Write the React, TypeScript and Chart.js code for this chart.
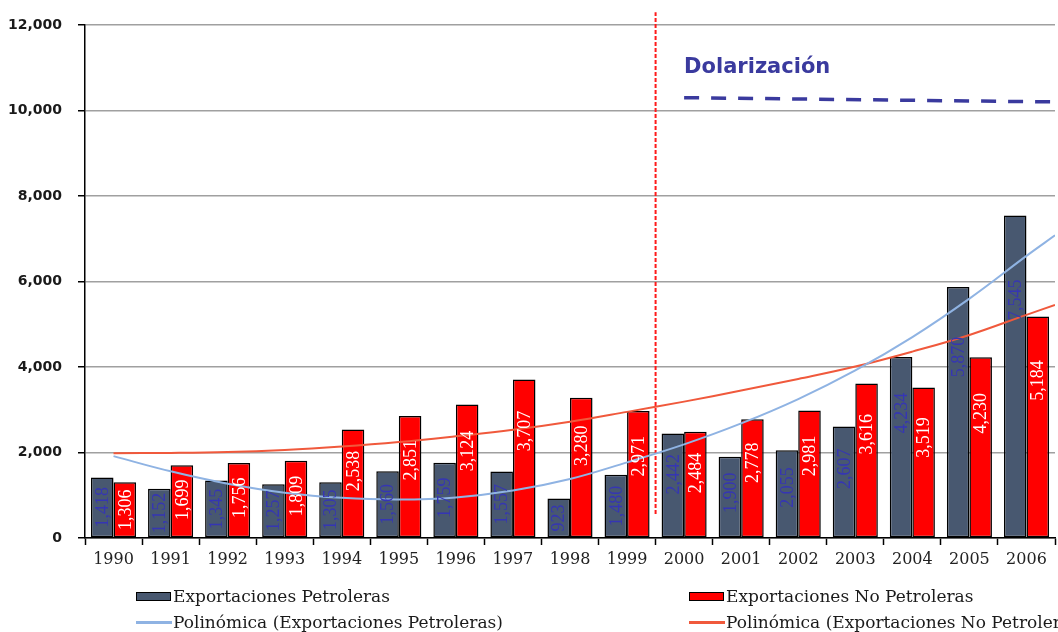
import React, { useEffect, useRef } from "react";
import { Chart, registerables } from "chart.js";

Chart.register(...registerables);

// ---- data ----
const years = ["1990", "1991", "1992", "1993", "1994", "1995", "1996", "1997", "1998", "1999", "2000", "2001", "2002", "2003", "2004", "2005", "2006"];
const petroleras = [1418, 1152, 1345, 1257, 1305, 1560, 1759, 1557, 923, 1480, 2442, 1900, 2055, 2607, 4234, 5870, 7545];
const noPetroleras = [1306, 1699, 1756, 1809, 2538, 2851, 3124, 3707, 3280, 2971, 2484, 2778, 2981, 3616, 3519, 4230, 5184];
const trendYears = [1990, 1991, 1992, 1993, 1994, 1995, 1996, 1997, 1998, 1999, 2000, 2001, 2002, 2003, 2004, 2005, 2006, 2006.5];
const trendPetroleras = [1915, 1560, 1270, 1060, 940, 900, 950, 1110, 1380, 1770, 2190, 2680, 3250, 3920, 4700, 5600, 6600, 7080];
const trendNoPetroleras = [1985, 1990, 2010, 2060, 2140, 2245, 2380, 2530, 2720, 2950, 3190, 3450, 3720, 4010, 4360, 4750, 5220, 5450];
const yTicks = [0, 2000, 4000, 6000, 8000, 10000, 12000];
const seriesNames = [
  "Exportaciones Petroleras",
  "Exportaciones No Petroleras",
  "Polinómica (Exportaciones Petroleras)",
  "Polinómica (Exportaciones No Petroleras)",
];
const dolarizacionLabel = "Dolarización";
const dolarizacionX = [2000, 2006.55];
const dolarizacionY = [10300, 10200];
const breakX = [1999.5, 1999.5];
const breakY = [560, 12300];

// ---- styles ----
const PETRO = "#485870";
const NOPETRO = "#ff0000";
const TREND_PETRO = "#8fb3e3";
const TREND_NOPETRO = "#f0593c";
const NAVY = "#3a3a9e";

const fmt = (v: number) => Number(v).toLocaleString("en-US");

const barLabelPlugin = {
  id: "barLabels",
  afterDatasetsDraw(chart: any) {
    const ctx = chart.ctx;
    [0, 1].forEach((di) => {
      const meta = chart.getDatasetMeta(di);
      const ds = chart.data.datasets[di];
      meta.data.forEach((el: any, i: number) => {
        const v = ds.data[i] as number;
        const top = el.y;
        const base = el.base;
        const h = base - top;
        const cy = top + Math.min(h / 2, 20 + 0.2 * h);
        ctx.save();
        ctx.translate(el.x, cy);
        ctx.rotate(-Math.PI / 2);
        ctx.font = '18px "Liberation Serif"';
        ctx.textAlign = "center";
        ctx.textBaseline = "middle";
        ctx.fillStyle = di === 0 ? "#3535b4" : "#ffffff";
        ctx.fillText(fmt(v), 0, 1);
        ctx.restore();
      });
    });
  },
  afterDraw(chart: any) {
    const ctx = chart.ctx;
    const xs = chart.scales.xt;
    const ys = chart.scales.y;
    const x = xs.getPixelForValue(dolarizacionX[0]);
    const y = ys.getPixelForValue(dolarizacionY[0]);
    ctx.save();
    ctx.font = 'bold 21px "DejaVu Sans"';
    ctx.fillStyle = NAVY;
    ctx.textAlign = "left";
    ctx.textBaseline = "alphabetic";
    ctx.fillText(dolarizacionLabel, x, y - 25);
    ctx.restore();
  },
};

const lineBase = {
  type: "line",
  xAxisID: "xt",
  pointRadius: 0,
  order: 1,
};

const barBase = {
  type: "bar",
  xAxisID: "xt",
  borderColor: "#000",
  borderWidth: 1.5,
  borderSkipped: false,
  categoryPercentage: 0.79,
  barPercentage: 1,
  order: 5,
};

export default function App() {
  const ref = useRef<HTMLCanvasElement | null>(null);

  useEffect(() => {
    if (!ref.current) return;
    const chart = new Chart(ref.current, {
      type: "bar",
      data: {
        labels: years,
        datasets: [
          { ...barBase, label: seriesNames[0], data: petroleras, backgroundColor: PETRO },
          { ...barBase, label: seriesNames[1], data: noPetroleras, backgroundColor: NOPETRO },
          {
            ...lineBase,
            label: seriesNames[2],
            data: trendYears.map((x, i) => ({ x, y: trendPetroleras[i] })),
            borderColor: TREND_PETRO,
            borderWidth: 2,
            tension: 0.4,
          },
          {
            ...lineBase,
            label: seriesNames[3],
            data: trendYears.map((x, i) => ({ x, y: trendNoPetroleras[i] })),
            borderColor: TREND_NOPETRO,
            borderWidth: 2,
            tension: 0.4,
          },
          {
            ...lineBase,
            label: "break",
            data: breakX.map((x, i) => ({ x, y: breakY[i] })),
            borderColor: "#ff1a1a",
            borderWidth: 2,
            borderDash: [4, 2],
            clip: false,
          },
          {
            ...lineBase,
            label: "dolarizacion",
            data: dolarizacionX.map((x, i) => ({ x, y: dolarizacionY[i] })),
            borderColor: NAVY,
            borderWidth: 3.5,
            borderDash: [15, 12],
            clip: false,
          },
        ] as any,
      },
      options: {
        animation: false,
        responsive: false,
        events: [],
        layout: { padding: { top: 25, right: 3, left: 0, bottom: 0 } },
        plugins: {
          legend: { display: false },
          tooltip: { enabled: false },
          title: { display: false },
        },
        scales: {
          xt: {
            type: "linear",
            display: false,
            position: "bottom",
            offset: false,
            grid: { offset: false },
            min: Number(years[0]) - 0.5,
            max: Number(years[years.length - 1]) + 0.5,
          },
          x: {
            type: "category",
            offset: true,
            grid: {
              offset: true,
              drawOnChartArea: false,
              drawTicks: true,
              tickLength: 7,
              tickColor: "#000",
              tickWidth: 1.5,
            },
            border: { color: "#000", width: 1.5 },
            ticks: {
              font: { family: "DejaVu Serif", size: 16 },
              color: "#222",
              padding: 5,
              maxRotation: 0,
              autoSkip: false,
            },
            afterFit: (scale: any) => {
              scale.height = 94;
            },
          },
          y: {
            type: "linear",
            min: 0,
            max: 12000,
            afterBuildTicks: (scale: any) => {
              scale.ticks = yTicks.map((v) => ({ value: v }));
            },
            ticks: {
              font: { family: "DejaVu Sans", size: 14, weight: "bold" },
              color: "#1a1a1a",
              padding: 16,
              callback: (v: any) => fmt(v),
            },
            grid: {
              color: "#a0a0a0",
              lineWidth: 1.5,
              tickLength: 7,
              tickColor: "#000",
              tickWidth: 1.5,
            },
            border: { color: "#000", width: 1.5 },
            afterFit: (scale: any) => {
              scale.width = 85;
            },
          },
        },
      } as any,
      plugins: [barLabelPlugin],
    });
    return () => chart.destroy();
  }, []);

  const textStyle: React.CSSProperties = {
    position: "absolute",
    fontFamily: '"DejaVu Serif"',
    fontSize: 17,
    lineHeight: "20px",
    color: "#1a1a1a",
    whiteSpace: "nowrap",
  };
  const legendItems = [
    { left: 136, top: 586, kind: "box", color: PETRO, name: seriesNames[0] },
    { left: 689, top: 586, kind: "box", color: NOPETRO, name: seriesNames[1] },
    { left: 136, top: 612, kind: "line", color: TREND_PETRO, name: seriesNames[2] },
    { left: 689, top: 612, kind: "line", color: TREND_NOPETRO, name: seriesNames[3] },
  ];

  return (
    <div
      style={{
        position: "absolute",
        left: 0,
        top: 0,
        width: 1058,
        height: 632,
        overflow: "hidden",
        background: "#fff",
      }}
    >
      <canvas
        ref={ref}
        width={1058}
        height={632}
        style={{ position: "absolute", left: 0, top: 0, width: 1058, height: 632 }}
      />
      {legendItems.map((it, i) => (
        <div key={i} style={{ position: "absolute", left: it.left, top: it.top, height: 20, width: 1058 - it.left }}>
          {it.kind === "box" ? (
            <div
              style={{
                position: "absolute",
                left: 0,
                top: 6,
                width: 33,
                height: 7,
                background: it.color,
                border: "1.5px solid #000",
              }}
            />
          ) : (
            <div
              style={{
                position: "absolute",
                left: 0,
                top: 9,
                width: 36,
                height: 3,
                background: it.color,
              }}
            />
          )}
          <span style={{ ...textStyle, left: 37, top: 0 }}>{it.name}</span>
        </div>
      ))}
    </div>
  );
}
